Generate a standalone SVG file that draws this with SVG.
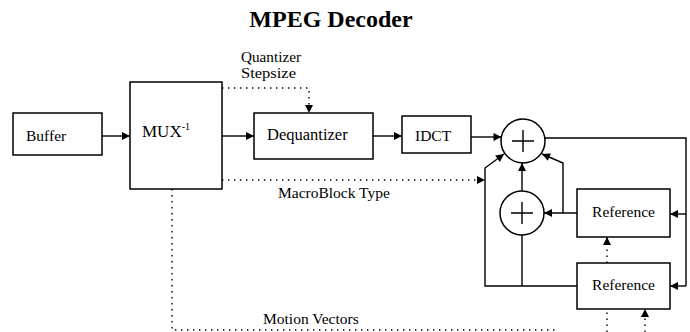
<svg xmlns="http://www.w3.org/2000/svg" width="690" height="332" viewBox="0 0 690 332">
  <defs>
    <style>
      .box { fill: #fff; stroke: #000; stroke-width: 1.5; }
      .line { fill: none; stroke: #000; stroke-width: 1.4; }
      .dot { fill: none; stroke: #000; stroke-width: 1.4; stroke-dasharray: 1.4 4.6; }
      .lbl { font-family: "Liberation Serif", "Times New Roman", serif; font-size: 15.5px; fill: #000; }
      .small { font-size: 14px; }
      .title { font-family: "Liberation Serif", "Times New Roman", serif; font-size: 24px; font-weight: bold; fill: #000; }
    </style>
    <marker id="arr" viewBox="0 0 10 10" refX="10" refY="5" markerWidth="9" markerHeight="8" markerUnits="userSpaceOnUse" orient="auto">
      <path d="M0,0 L10,5 L0,10 Z" fill="#000"/>
    </marker>
  </defs>

  <rect width="690" height="332" fill="#fff"/>

  <text class="title" x="331" y="27" text-anchor="middle">MPEG Decoder</text>

  <!-- blocks -->
  <g id="buffer">
    <rect class="box" x="13" y="113" width="89" height="42"/>
    <text class="lbl" x="26" y="141">Buffer</text>
  </g>
  <g id="mux">
    <rect class="box" x="130" y="82" width="92" height="107"/>
    <text class="lbl" x="142" y="137" style="font-size:17px">MUX<tspan dy="-7" style="font-size:10px">-1</tspan></text>
  </g>
  <g id="dequantizer">
    <rect class="box" x="254" y="113" width="119" height="46"/>
    <text class="lbl" x="267" y="140" style="font-size:16.5px">Dequantizer</text>
  </g>
  <g id="idct">
    <rect class="box" x="402" y="116" width="69" height="37"/>
    <text class="lbl" x="415" y="141">IDCT</text>
  </g>
  <g id="adder-main">
    <circle class="box" cx="523" cy="141" r="22"/>
    <path class="line" d="M512,141 H534 M523,130 V152"/>
  </g>
  <g id="adder-ref">
    <circle class="box" cx="522" cy="213" r="22"/>
    <path class="line" d="M511,213 H533 M522,202 V224"/>
  </g>
  <g id="reference-1">
    <rect class="box" x="577" y="189" width="93" height="48"/>
    <text class="lbl" x="623.5" y="217" text-anchor="middle">Reference</text>
  </g>
  <g id="reference-2">
    <rect class="box" x="577" y="263" width="93" height="46"/>
    <text class="lbl" x="623.5" y="290" text-anchor="middle">Reference</text>
  </g>

  <!-- connectors -->
  <g id="connectors">
    <path class="line" d="M102,136 H130" marker-end="url(#arr)"/>
    <path class="line" d="M222,136 H254" marker-end="url(#arr)"/>
    <path class="line" d="M373,136 H402" marker-end="url(#arr)"/>
    <path class="line" d="M471,137 H501.5" marker-end="url(#arr)"/>

    <!-- decoded output and feedback to the reference stores -->
    <path class="line" d="M544.5,138 H686 V286"/>
    <path class="line" d="M686,214 H670" marker-end="url(#arr)"/>
    <path class="line" d="M686,286 H670" marker-end="url(#arr)"/>

    <!-- prediction paths into the adders -->
    <path class="line" d="M522,191 V163" marker-end="url(#arr)"/>
    <path class="line" d="M577,213 H544" marker-end="url(#arr)"/>
    <path class="line" d="M563,213 V163 L542,154" marker-end="url(#arr)"/>
    <path class="line" d="M577,286 H485 V168 L504,154" marker-end="url(#arr)"/>
    <path class="line" d="M522,235 V286"/>

    <!-- side information -->
    <path class="dot" d="M222,88 H309 V113" marker-end="url(#arr)"/>
    <path class="dot" d="M222,180 H485" marker-end="url(#arr)"/>
    <path class="dot" d="M172,189 V330 H557"/>
    <path class="dot" d="M607,332 V309"/>
    <path class="dot" d="M607,263 V237" marker-end="url(#arr)"/>
    <path class="dot" d="M645,332 V309" marker-end="url(#arr)"/>
  </g>

  <!-- labels -->
  <text class="lbl small" x="241" y="61.5" textLength="60" lengthAdjust="spacingAndGlyphs">Quantizer</text>
  <text class="lbl small" x="241" y="77.5" textLength="55" lengthAdjust="spacingAndGlyphs">Stepsize</text>
  <text class="lbl" x="278" y="198">MacroBlock Type</text>
  <text class="lbl" x="263" y="324">Motion Vectors</text>
</svg>
